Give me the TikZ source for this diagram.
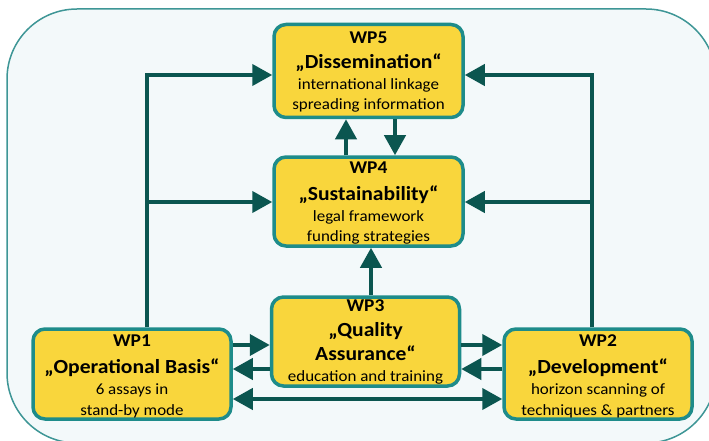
\documentclass[tikz,border=0pt]{standalone}
\usepackage{fontspec}
\setmainfont[FakeStretch=1.08]{Carlito}
\usetikzlibrary{arrows.meta,calc}

\definecolor{panelfill}{HTML}{F3F9FA}
\definecolor{panelline}{HTML}{3E9696}
\definecolor{boxfill}{HTML}{F9D63C}
\definecolor{boxline}{HTML}{1E8C8A}
\definecolor{flow}{HTML}{0B5650}

\tikzset{
  wpbox/.style={draw=boxline, fill=boxfill, line width=3.5pt, rounded corners=12pt,
    inner sep=0pt},
  idline/.style={anchor=base, inner sep=0pt, font=\fontsize{18}{20}\selectfont\bfseries},
  nameline/.style={anchor=base, inner sep=0pt, font=\fontsize{20}{22}\selectfont\bfseries},
  descline/.style={anchor=base, inner sep=0pt, font=\fontsize{15.7}{18}\selectfont},
  flowline/.style={draw=flow, line width=4pt, -{Triangle[length=20pt,width=21pt]}},
  flowboth/.style={draw=flow, line width=4pt, {Triangle[length=20pt,width=21pt]}-{Triangle[length=20pt,width=21pt]}}
}

\begin{document}
\begin{tikzpicture}[x=1pt,y=-1pt]
  \useasboundingbox (0,0) rectangle (709,441);
  \clip (0,0) rectangle (709,441);

  % light panel behind the work packages
  \draw[fill=panelfill, draw=panelline, line width=1.5pt, rounded corners=70pt]
    (7,9) rectangle (716,443);

  % work package boxes
  \node[wpbox, minimum width=189pt, minimum height=93pt] (wp5) at (368.5,71) {};
  \node[wpbox, minimum width=189pt, minimum height=89pt] (wp4) at (368.5,201.5) {};
  \node[wpbox, minimum width=188pt, minimum height=89pt] (wp3) at (365.5,341.5) {};
  \node[wpbox, minimum width=198pt, minimum height=90pt] (wp1) at (132,374) {};
  \node[wpbox, minimum width=188pt, minimum height=90pt] (wp2) at (598,374) {};

  % WP5 text
  \node[idline]   (wp5a) at (wp5.center |- 0,43.3)  {WP5};
  \node[nameline] (wp5b) at (wp5.center |- 0,68.3)  {„Dissemination“};
  \node[descline] (wp5c) at (wp5.center |- 0,90)    {international linkage};
  \node[descline] (wp5d) at (wp5.center |- 0,110)   {spreading information};

  % WP4 text
  \node[idline]   (wp4a) at (wp4.center |- 0,173.3) {WP4};
  \node[nameline] (wp4b) at (wp4.center |- 0,200)   {„Sustainability“};
  \node[descline] (wp4c) at (wp4.center |- 0,221.7) {legal framework};
  \node[descline] (wp4d) at (wp4.center |- 0,241)   {funding strategies};

  % WP3 text
  \node[idline]   (wp3a) at (wp3.center |- 0,311.7) {WP3};
  \node[nameline] (wp3b) at (wp3.center |- 0,336.7) {„Quality};
  \node[nameline] (wp3c) at (wp3.center |- 0,360.7) {Assurance“};
  \node[descline] (wp3d) at (wp3.center |- 0,381.7) {education and training};

  % WP1 text
  \node[idline]   (wp1a) at (wp1.center |- 0,346.3) {WP1};
  \node[nameline] (wp1b) at (wp1.center |- 0,373)   {„Operational Basis“};
  \node[descline] (wp1c) at (wp1.center |- 0,394)   {6 assays in};
  \node[descline] (wp1d) at (wp1.center |- 0,415.3) {stand-by mode};

  % WP2 text
  \node[idline]   (wp2a) at (wp2.center |- 0,346.3) {WP2};
  \node[nameline] (wp2b) at (wp2.center |- 0,373)   {„Development“};
  \node[descline] (wp2c) at (wp2.center |- 0,394)   {horizon scanning of};
  \node[descline] (wp2d) at (wp2.center |- 0,415.3) {techniques \& partners};

  % routing points of the outer feedback lines
  \coordinate (ltop) at (147,75);
  \coordinate (lmid) at (147,202);
  \coordinate (rtop) at (592,75);
  \coordinate (rmid) at (592,202);

  % WP1 and WP2 feed WP5 and WP4
  \draw[flowline] (wp1.north -| ltop) |- (wp5.west |- ltop);
  \draw[flowline] (lmid) -- (wp4.west |- lmid);
  \draw[flowline] (wp2.north -| rtop) |- (wp5.east |- rtop);
  \draw[flowline] (rmid) -- (wp4.east |- rmid);

  % exchange between WP4 and WP5
  \draw[flowline] (wp4.north -| 346,0) -- (wp5.south -| 346,0);
  \draw[flowline] (wp5.south -| 395,0) -- (wp4.north -| 395,0);

  % WP3 supports WP4
  \draw[flowline] (wp3.north -| 371,0) -- (wp4.south -| 371,0);

  % exchange along the bottom row
  \draw[flowline] (wp1.east |- 0,345) -- (wp3.west |- 0,345);
  \draw[flowline] (wp3.west |- 0,369) -- (wp1.east |- 0,369);
  \draw[flowline] (wp3.east |- 0,345) -- (wp2.west |- 0,345);
  \draw[flowline] (wp2.west |- 0,369) -- (wp3.east |- 0,369);
  \draw[flowboth] (wp1.east |- 0,399) -- (wp2.west |- 0,399);
\end{tikzpicture}
\end{document}
